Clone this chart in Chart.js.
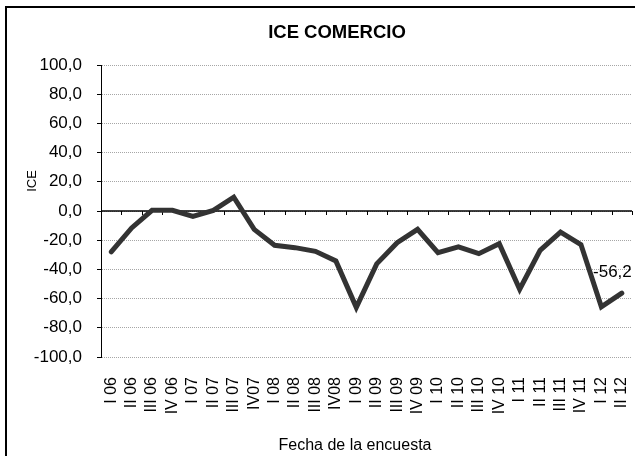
<!DOCTYPE html>
<html>
<head>
<meta charset="utf-8">
<title>ICE COMERCIO</title>
<script src="https://cdn.jsdelivr.net/npm/chart.js@4/dist/chart.umd.min.js"></script>
<style>
  html, body { margin: 0; padding: 0; background: #fff; overflow: hidden; }
  #frame { position: absolute; left: 5px; top: 6px; width: 700px; height: 500px; border: 2px solid #000; }
  #chart { position: absolute; left: 0; top: 0; }
</style>
</head>
<body>
<div id="frame"></div>
<canvas id="chart" width="635" height="456"></canvas>
<script>
const chartTitle = 'ICE COMERCIO';
const yTitle = 'ICE';
const xTitle = 'Fecha de la encuesta';

const quarters = ['I 06', 'II 06', 'III 06', 'IV 06', 'I 07', 'II 07', 'III 07', 'IV07',
  'I 08', 'II 08', 'III 08', 'IV08', 'I 09', 'II 09', 'III 09', 'IV 09',
  'I 10', 'II 10', 'III 10', 'IV 10', 'I 11', 'II 11', 'III 11', 'IV 11', 'I 12', 'II 12'];

const iceValues = [-28.0, -11.6, 0.5, 0.5, -3.7, 0.4, 9.5, -12.6,
  -23.5, -25.1, -27.6, -34.2, -66.0, -36.2, -21.7, -12.6,
  -28.5, -24.6, -29.2, -22.4, -53.6, -26.9, -14.4, -23.0, -65.6, -56.2];

const yMin = -100;
const yMax = 100;
const yStep = 20;

const FONT = "'Liberation Sans', Arial, sans-serif";

function fmt(v) {
  return v.toFixed(1).replace('.', ',');
}

// zero line with its small category ticks, drawn under the series
const zeroAxis = {
  id: 'zeroAxis',
  beforeDatasetsDraw(chart) {
    const { ctx, chartArea, scales } = chart;
    const y0 = scales.y.getPixelForValue(0);
    const n = quarters.length;
    const step = (chartArea.right - chartArea.left) / n;
    ctx.save();
    ctx.strokeStyle = '#000';
    ctx.lineWidth = 1.5;
    ctx.beginPath();
    ctx.moveTo(chartArea.left, y0);
    ctx.lineTo(chartArea.right, y0);
    ctx.stroke();
    ctx.lineWidth = 1;
    ctx.beginPath();
    for (let i = 1; i <= n; i++) {
      const x = Math.round(chartArea.left + i * step) + 0.5;
      ctx.moveTo(x, y0);
      ctx.lineTo(x, y0 + 4);
    }
    ctx.stroke();
    ctx.restore();
  }
};

// titles and the label on the last point
const texts = {
  id: 'texts',
  afterDatasetsDraw(chart) {
    const { ctx } = chart;
    ctx.save();
    ctx.fillStyle = '#000';
    ctx.textAlign = 'center';
    ctx.textBaseline = 'middle';

    ctx.font = 'bold 18.5px ' + FONT;
    ctx.fillText(chartTitle, 337, 33);

    ctx.font = '16px ' + FONT;
    ctx.fillText(xTitle, 355, 446);

    ctx.save();
    ctx.translate(32, 181);
    ctx.rotate(-Math.PI / 2);
    ctx.font = '13px ' + FONT;
    ctx.fillText(yTitle, 0, 0);
    ctx.restore();

    const meta = chart.getDatasetMeta(0);
    const last = meta.data[meta.data.length - 1];
    ctx.font = '17px ' + FONT;
    ctx.textAlign = 'right';
    ctx.fillText(fmt(iceValues[iceValues.length - 1]), last.x + 10, last.y - 21);
    ctx.restore();
  }
};

const ctx = document.getElementById('chart').getContext('2d');
new Chart(ctx, {
  type: 'line',
  data: {
    labels: quarters,
    datasets: [{
      label: yTitle,
      data: iceValues,
      borderColor: '#333333',
      borderWidth: 5,
      borderJoinStyle: 'miter',
      borderCapStyle: 'round',
      pointRadius: 0,
      pointHoverRadius: 0,
      tension: 0,
      fill: false
    }]
  },
  options: {
    responsive: false,
    devicePixelRatio: 1,
    animation: false,
    layout: { padding: { top: 65, right: 3, left: 0, bottom: 0 } },
    plugins: {
      legend: { display: false },
      title: { display: false },
      tooltip: { enabled: false }
    },
    scales: {
      x: {
        offset: true,
        grid: { display: false, drawTicks: false },
        border: { display: false },
        ticks: {
          autoSkip: false,
          maxRotation: 90,
          minRotation: 90,
          padding: 20,
          color: '#000',
          font: { family: FONT, size: 16 }
        },
        afterFit(scale) {
          scale.height = 99;
          scale.paddingLeft = 0;
          scale.paddingRight = 0;
        }
      },
      y: {
        min: yMin,
        max: yMax,
        grid: {
          color: '#a6a6a6',
          lineWidth: 1,
          tickLength: 4,
          tickColor: '#000',
          tickBorderDash: []
        },
        border: { display: true, color: '#000', width: 1, dash: [1, 1] },
        ticks: {
          stepSize: yStep,
          padding: 15,
          color: '#000',
          font: { family: FONT, size: 17 },
          callback: (v) => fmt(v)
        },
        afterFit(scale) { scale.width = 101; }
      }
    }
  },
  plugins: [zeroAxis, texts]
});
</script>
</body>
</html>
